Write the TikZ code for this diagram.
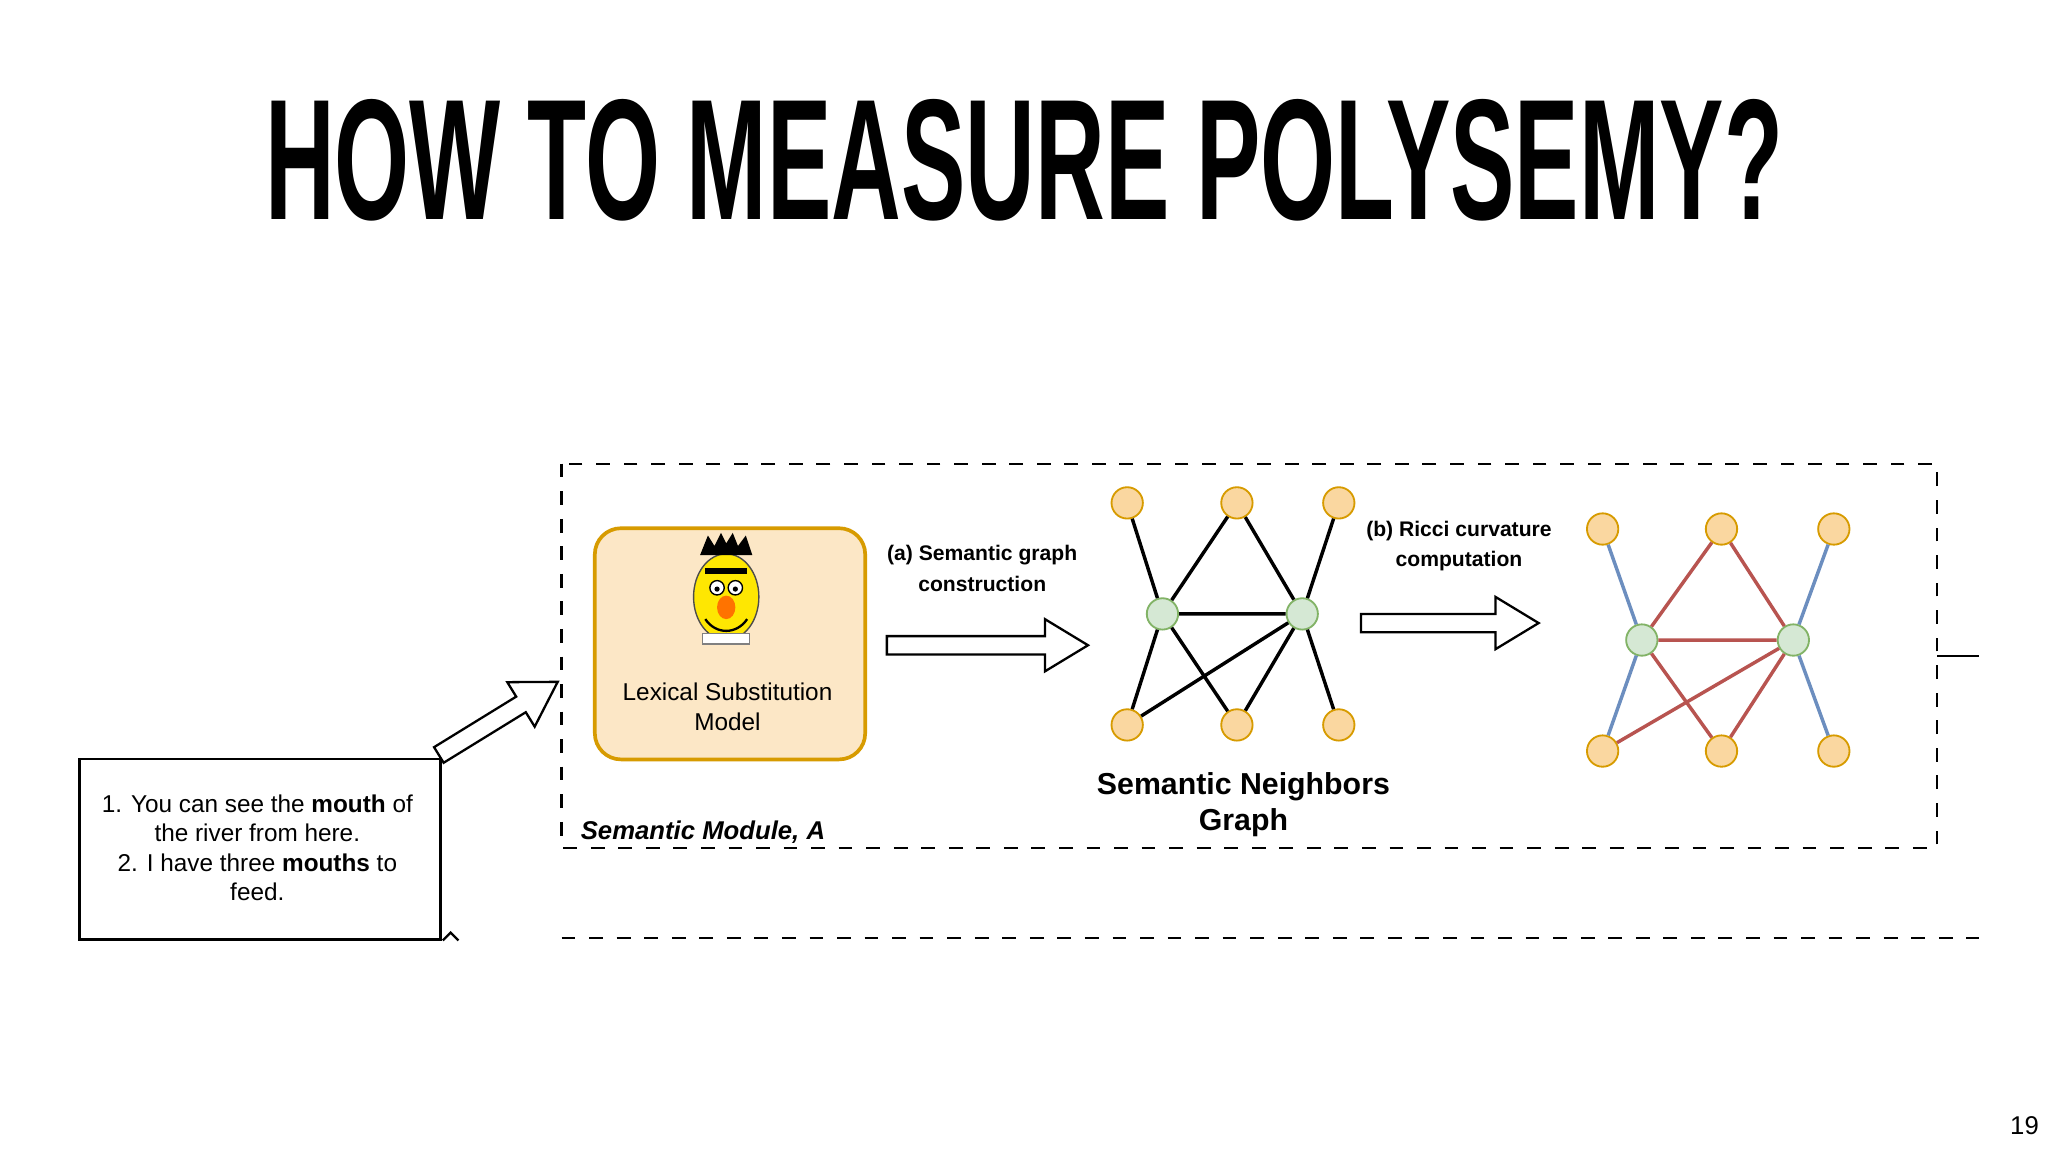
\documentclass[tikz,border=0pt]{standalone}
\usepackage{fontspec}
\setmainfont{Liberation Sans}
\usetikzlibrary{calc}
\definecolor{onode}{HTML}{FAD7A0}
\definecolor{oborder}{HTML}{D79B00}
\definecolor{gnode}{HTML}{D5E8D4}
\definecolor{gborder}{HTML}{82B366}
\definecolor{bedge}{HTML}{6C8EBF}
\definecolor{redge}{HTML}{B85450}
\tikzset{
 onodes/.style={circle,fill=onode,draw=oborder,line width=0.4pt,minimum size=0.24cm,inner sep=0},
 gnodes/.style={circle,fill=gnode,draw=gborder,line width=0.4pt,minimum size=0.24cm,inner sep=0},
 txt/.style={font=\fontsize{5.3}{6.4}\selectfont,inner sep=0,align=center},
 lbl/.style={font=\bfseries\fontsize{4.6}{6.7}\selectfont,inner sep=0,align=center},
 ked/.style={line width=0.75pt},
 bed/.style={line width=0.75pt,draw=bedge},
 red/.style={line width=0.75pt,draw=redge},
}
\newcommand{\hollowarrow}[2]{%
 \draw[line width=0.5pt,fill=white] let \p1=($(#2)-(#1)$), \n1={atan2(\y1,\x1)}, \n2={veclen(\x1,\y1)} in
 [shift={(#1)},rotate=\n1] (0,-0.07) -- (\n2-0.33cm,-0.07) -- (\n2-0.33cm,-0.2) -- (\n2,0) -- (\n2-0.33cm,0.2) -- (\n2-0.33cm,0.07) -- (0,0.07) -- cycle;}
\begin{document}
\begin{tikzpicture}[x=1cm,y=-1cm]
\useasboundingbox (0,0) rectangle (15.68,8.82);
\fill[white] (0,0) rectangle (15.68,8.82);
\node[inner sep=0,anchor=north] (title) at (7.84,0.75) {\resizebox{11.62cm}{0.92cm}{\bfseries HOW TO MEASURE POLYSEMY?}};
% dashed module
\draw[dashed,line width=0.5pt] (4.30,3.55) rectangle (14.83,6.49);
\coordinate (r1) at (14.83,5.02); \coordinate (r2) at (15.15,5.02);
\draw[line width=0.5pt] (r1) -- (r2);
\coordinate (d1) at (4.30,7.18); \coordinate (d2) at (15.15,7.18);
\draw[dashed,line width=0.5pt] (d1) -- (d2);
% text box
\node[draw,line width=0.6pt,minimum width=2.76cm,minimum height=1.38cm,anchor=north west,inner sep=0] (tb) at (0.60,5.80) {};
\node[txt] (tbt) at (1.97,6.49) {1. You can see the \textbf{mouth} of\\the river from here.\\2. I have three \textbf{mouths} to\\feed.};
\draw[line width=0.5pt] (3.39,7.20) -- (3.45,7.14) -- (3.51,7.20);
\coordinate (a1s) at (3.36,5.78); \coordinate (a1e) at (4.27,5.22);
\hollowarrow{a1s}{a1e}
% LSM box
\node[draw=oborder,fill=onode!60,rounded corners=0.2cm,line width=0.8pt,minimum width=2.07cm,minimum height=1.77cm,anchor=north west] (lsm) at (4.54,4.03) {};
\node[txt] (lsmt) at (5.57,5.41) {Lexical Substitution\\Model};
% Bert
\fill[yellow!90!orange,draw=black!70,line width=0.3pt] (5.56,4.57) ellipse (0.25 and 0.33);
\fill[black] (5.36,4.25) -- (5.42,4.10) -- (5.47,4.18) -- (5.52,4.08) -- (5.56,4.16) -- (5.61,4.08) -- (5.65,4.18) -- (5.71,4.10) -- (5.76,4.25) -- cycle;
\draw[black,line width=1.2pt] (5.40,4.37) -- (5.72,4.37);
\fill[white,draw=black,line width=0.3pt] (5.49,4.50) circle (0.055) (5.63,4.50) circle (0.055);
\fill[black] (5.49,4.51) circle (0.02) (5.63,4.51) circle (0.02);
\fill[orange!90!red] (5.56,4.65) ellipse (0.07 and 0.09);
\draw[black,line width=0.5pt] (5.40,4.74) .. controls (5.48,4.86) and (5.64,4.86) .. (5.72,4.74);
\fill[white,draw=black!50,line width=0.3pt] (5.38,4.85) rectangle (5.74,4.93);
% (a)
\node[lbl] (la) at (7.52,4.35) {(a) Semantic graph\\construction};
\coordinate (a2s) at (6.79,4.94); \coordinate (a2e) at (8.33,4.94);
\hollowarrow{a2s}{a2e}
% graph 1
\node[onodes] (t1) at (8.63,3.85) {}; \node[onodes] (t2) at (9.47,3.85) {}; \node[onodes] (t3) at (10.25,3.85) {};
\node[gnodes] (m1) at (8.90,4.70) {}; \node[gnodes] (m2) at (9.97,4.70) {};
\node[onodes] (b1) at (8.63,5.55) {}; \node[onodes] (b2) at (9.47,5.55) {}; \node[onodes] (b3) at (10.25,5.55) {};
\begin{scope}[on background layer/.style={}]
\end{scope}
\draw[ked] (t1)--(m1) (t2)--(m1) (t2)--(m2) (t3)--(m2) (m1)--(m2) (m1)--(b1) (m1)--(b2) (m2)--(b3) (m2)--(b1) (m2)--(b2);
\node[font=\bfseries\fontsize{6.6}{7.8}\selectfont,align=center,inner sep=0] (sng) at (9.52,6.16) {Semantic Neighbors\\Graph};
% (b)
\node[lbl] (lb) at (11.17,4.18) {(b) Ricci curvature\\computation};
\coordinate (a3s) at (10.42,4.77); \coordinate (a3e) at (11.78,4.77);
\hollowarrow{a3s}{a3e}
% graph 2
\node[onodes] (u1) at (12.27,4.05) {}; \node[onodes] (u2) at (13.18,4.05) {}; \node[onodes] (u3) at (14.04,4.05) {};
\node[gnodes] (n1) at (12.57,4.90) {}; \node[gnodes] (n2) at (13.73,4.90) {};
\node[onodes] (v1) at (12.27,5.75) {}; \node[onodes] (v2) at (13.18,5.75) {}; \node[onodes] (v3) at (14.04,5.75) {};
\draw[bed] (u1)--(n1) (u3)--(n2) (n1)--(v1) (n2)--(v3);
\draw[red] (u2)--(n1) (u2)--(n2) (n1)--(n2) (n1)--(v2) (n2)--(v2) (n2)--(v1);
\node[font=\bfseries\itshape\fontsize{5.6}{6.7}\selectfont,anchor=west,inner sep=0] (sma) at (4.44,6.37) {Semantic Module, A};
\node[font=\fontsize{5.6}{6.7}\selectfont,inner sep=0] (pg) at (15.50,8.62) {19};
\end{tikzpicture}
\end{document}
